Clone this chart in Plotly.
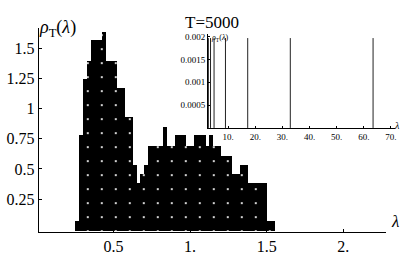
import plotly.graph_objects as go

# ---- data ----
bin_start = 0.25
bin_width = 0.025
heights = [0.067, 0.78, 1.25, 1.40, 1.57, 1.57, 1.57, 1.64, 1.40, 1.40,
           1.40, 1.17, 1.17, 0.93, 0.93, 0.53, 0.38, 0.46, 0.53, 0.69,
           0.69, 0.69, 0.69, 0.85, 0.69, 0.69, 0.78, 0.78, 0.78, 0.69,
           0.69, 0.78, 0.78, 0.78, 0.69, 0.78, 0.69, 0.69, 0.61, 0.61,
           0.61, 0.46, 0.46, 0.53, 0.53, 0.38, 0.38, 0.38, 0.38, 0.38,
           0.067, 0.067]
centers = [bin_start + bin_width * (i + 0.5) for i in range(len(heights))]

inset_x = [2.7, 3.5, 4.8, 9.0, 17.2, 32.9, 63.4]
inset_y = [0.00197, 0.00197, 0.00197, 0.00197, 0.00197, 0.00197, 0.00197]

main_xticks = [0.5, 1.0, 1.5, 2.0]
main_xticktext = ["0.5", "1.", "1.5", "2."]
main_yticks = [0.25, 0.5, 0.75, 1.0, 1.25, 1.5]
main_yticktext = ["0.25", "0.5", "0.75", "1", "1.25", "1.5"]
inset_xticks = [10, 20, 30, 40, 50, 60, 70]
inset_xticktext = ["10.", "20.", "30.", "40.", "50.", "60.", "70."]
inset_yticks = [0.0005, 0.001, 0.0015, 0.002]
inset_yticktext = ["0.0005", "0.001", "0.0015", "0.002"]

Y_MIN = -0.02
X_RANGE = [0.013, 2.279]
Y_RANGE = [Y_MIN, 1.67]

W, H = 409, 255
serif = "Liberation Serif"

fig = go.Figure()

fig.add_trace(go.Bar(
    x=centers, y=[h - Y_MIN for h in heights], base=Y_MIN, width=bin_width,
    marker=dict(color="black", line=dict(width=0),
                pattern=dict(shape=".", bgcolor="black", fgcolor="white",
                             size=14, solidity=0.02, fillmode="replace")),
    xaxis="x", yaxis="y", showlegend=False, hoverinfo="skip"))

# inset spikes
sx, sy = [], []
for px, py in zip(inset_x, inset_y):
    sx += [px, px, None]
    sy += [0, py, None]
fig.add_trace(go.Scatter(x=sx, y=sy, mode="lines",
                         line=dict(color="#222", width=1),
                         xaxis="x2", yaxis="y2", showlegend=False,
                         hoverinfo="skip"))

ax_common = dict(showgrid=False, zeroline=False, showline=True,
                 linecolor="black", linewidth=1, ticks="inside",
                 tickcolor="black")

fig.update_layout(
    width=W, height=H,
    margin=dict(l=0, r=0, t=0, b=0),
    paper_bgcolor="white", plot_bgcolor="rgba(0,0,0,0)",
    bargap=0,
    xaxis=dict(domain=[39 / W, 388 / W], range=X_RANGE,
               tickvals=main_xticks, ticktext=main_xticktext,
               ticklen=3, tickfont=dict(family=serif, size=16, color="black"),
               anchor="y", **ax_common),
    yaxis=dict(domain=[(H - 237) / H, (H - 27) / H], range=Y_RANGE,
               tickvals=main_yticks, ticktext=main_yticktext,
               ticklen=3, tickfont=dict(family=serif, size=16, color="black"),
               anchor="x", **ax_common),
    xaxis2=dict(domain=[209 / W, 397 / W], range=[2.56, 71.5],
                tickvals=inset_xticks, ticktext=inset_xticktext,
                ticklen=2, tickfont=dict(family=serif, size=9, color="black"),
                anchor="y2", **ax_common),
    yaxis2=dict(domain=[(H - 130) / H, (H - 33) / H], range=[0, 0.00206],
                tickvals=inset_yticks, ticktext=inset_yticktext,
                ticklen=2, tickfont=dict(family=serif, size=9, color="black"),
                anchor="x2", **ax_common),
    font=dict(family=serif, color="black"),
)

fig.add_annotation(text="T=5000", x=213 / W, y=(H - 10) / H, xref="paper",
                   yref="paper", showarrow=False, borderpad=0,
                   font=dict(family=serif, size=17, color="black"))
fig.add_annotation(text="<i>ρ</i><sub>T</sub>(<i>λ</i>)", x=37 / W,
                   y=(H - 13) / H, xref="paper", yref="paper",
                   showarrow=False,
                   font=dict(family=serif, size=18, color="black"))
fig.add_annotation(text="<i>λ</i>", x=403 / W, y=(H - 238) / H,
                   xref="paper", yref="paper", showarrow=False,
                   font=dict(family=serif, size=17, color="black"))
fig.add_annotation(text="<i>ρ</i><sub>T</sub>(<i>λ</i>)", x=221 / W,
                   y=(H - 30) / H, xref="paper", yref="paper",
                   showarrow=False,
                   font=dict(family=serif, size=8, color="black"))
fig.add_annotation(text="<i>λ</i>", x=404 / W, y=(H - 127) / H,
                   xref="paper", yref="paper", showarrow=False,
                   font=dict(family=serif, size=10, color="black"))

fig.write_html("out.html", config={"displayModeBar": False},
               post_script="document.body.style.margin='0px';")
